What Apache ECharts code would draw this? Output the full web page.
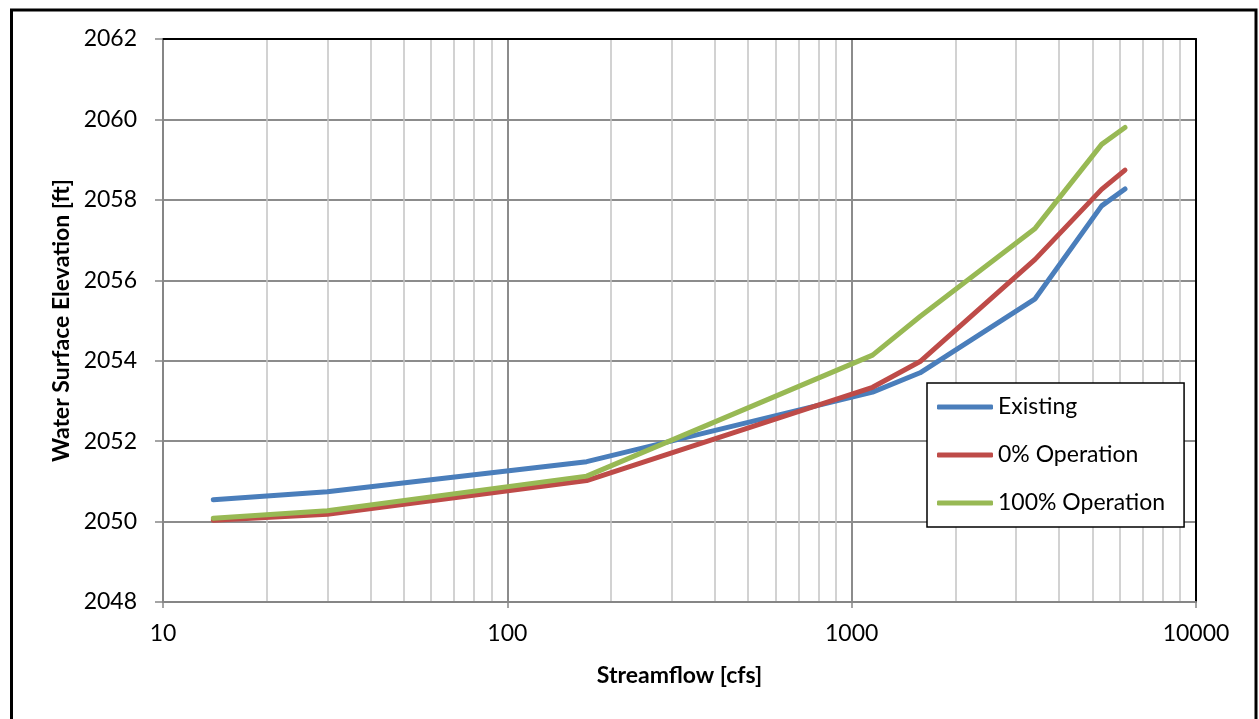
<!DOCTYPE html>
<html>
<head>
<meta charset="utf-8">
<script src="https://cdn.jsdelivr.net/npm/echarts@6/dist/echarts.min.js"></script>
<style>
  html, body { margin: 0; padding: 0; background: #fff; }
  #chart { width: 1259px; height: 719px; }
</style>
</head>
<body>
<div id="chart"></div>
<script>
// streamflow [cfs] shared by all three runs
const flows = [14, 30, 170, 1150, 1580, 3410, 5320, 6220];
const existing = [2050.54, 2050.74, 2051.49, 2053.22, 2053.70, 2055.54, 2057.85, 2058.27];
const op0 = [2050.03, 2050.18, 2051.02, 2053.34, 2053.98, 2056.52, 2058.26, 2058.74];
const op100 = [2050.08, 2050.27, 2051.13, 2054.14, 2055.10, 2057.29, 2059.38, 2059.80];
const seriesNames = ["Existing", "0% Operation", "100% Operation"];
const colors = ["#4a7ebb", "#be4b48", "#98b954"];

const font = "Lato";
const fs = 23;

function pairs(ys) {
  return flows.map((x, i) => [x, ys[i]]);
}

const chart = echarts.init(document.getElementById("chart"));

const option = {
  animation: false,
  backgroundColor: "#fff",
  color: colors,
  textStyle: { fontFamily: font },
  grid: { left: 163, right: 63, top: 39, bottom: 117 },
  graphic: [
    {
      type: "rect",
      shape: { x: 11.5, y: 10, width: 1244.5, height: 730 },
      style: { fill: null, stroke: "#000", lineWidth: 3 },
      silent: true
    }
  ],
  legend: {
    orient: "vertical",
    left: 927,
    top: 383,
    data: seriesNames,
    icon: "roundRect",
    itemWidth: 56,
    itemHeight: 5,
    itemGap: 22,
    padding: [11, 19, 11, 10],
    backgroundColor: "#fff",
    borderColor: "#000",
    borderWidth: 1.5,
    borderRadius: 0,
    textStyle: { fontFamily: font, fontSize: fs, color: "#000", lineHeight: 26 }
  },
  xAxis: [
    {
      type: "log",
      logBase: 10,
      min: 10,
      max: 10000,
      name: "Streamflow [cfs]",
      nameLocation: "middle",
      nameGap: 62,
      nameTextStyle: { fontFamily: font, fontSize: fs, fontWeight: "bold", color: "#000" },
      axisLine: { show: true, lineStyle: { color: "#868686", width: 2 } },
      axisTick: { show: true, length: 6, lineStyle: { color: "#868686", width: 1.5 } },
      axisLabel: { fontFamily: font, fontSize: fs, color: "#000", margin: 20, formatter: v => String(v) },
      splitLine: { show: true, lineStyle: { color: "#8c8c8c", width: 2 } },
      minorTick: { show: false, splitNumber: 9 },
      minorSplitLine: { show: true, lineStyle: { color: "#c4c4c4", width: 1.5 } }
    },
    {
      type: "log",
      logBase: 10,
      min: 10,
      max: 10000,
      position: "top",
      axisLine: { show: true, lineStyle: { color: "#000", width: 2 } },
      axisTick: { show: false },
      axisLabel: { show: false },
      splitLine: { show: false }
    }
  ],
  yAxis: [
    {
      type: "value",
      min: 2048,
      max: 2062,
      interval: 2,
      name: "Water Surface Elevation [ft]",
      nameLocation: "middle",
      nameGap: 89,
      nameRotate: 90,
      nameTextStyle: { fontFamily: font, fontSize: fs, fontWeight: "bold", color: "#000" },
      axisLine: { show: true, lineStyle: { color: "#868686", width: 2 } },
      axisTick: { show: true, length: 8, lineStyle: { color: "#868686", width: 1.5 } },
      axisLabel: { fontFamily: font, fontSize: fs, color: "#000", margin: 26, formatter: v => String(v) },
      splitLine: { show: true, lineStyle: { color: "#8c8c8c", width: 2 } }
    },
    {
      type: "value",
      min: 2048,
      max: 2062,
      interval: 2,
      position: "right",
      axisLine: { show: true, lineStyle: { color: "#000", width: 2 } },
      axisTick: { show: false },
      axisLabel: { show: false },
      splitLine: { show: false }
    }
  ],
  series: [existing, op0, op100].map((ys, i) => ({
    name: seriesNames[i],
    type: "line",
    xAxisIndex: 0,
    yAxisIndex: 0,
    data: pairs(ys),
    showSymbol: false,
    symbol: "none",
    lineStyle: { width: 5, color: colors[i], cap: "round", join: "round" },
    itemStyle: { color: colors[i] },
    z: 3 + i
  }))
};

chart.setOption(option);
</script>
</body>
</html>
